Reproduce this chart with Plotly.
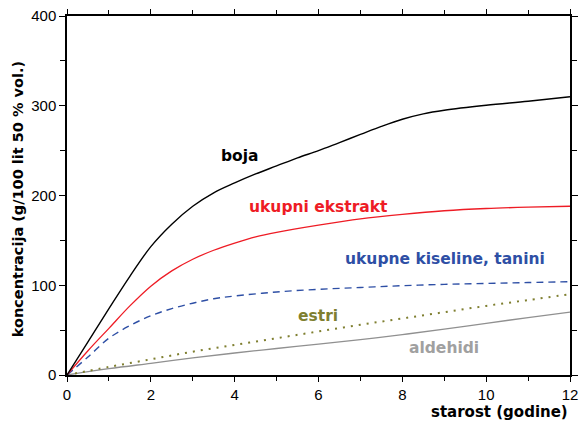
import plotly.graph_objects as go

years = [0, 0.5, 1, 1.5, 2, 2.5, 3, 3.5, 4, 4.5, 5, 5.5, 6, 6.5, 7, 7.5, 8, 8.5, 9, 10, 11, 12]
boja = [0, 37, 74, 110, 143, 168, 188, 203, 214, 224, 233, 242, 250, 259, 268, 277, 285, 291, 295, 300.5, 305, 310]

years_r = [0, 0.5, 1, 1.5, 2, 2.5, 3, 3.5, 4, 4.5, 5, 6, 7, 8, 9, 10, 11, 12]
ekstrakt = [0, 27, 52, 77, 99, 116, 129, 139, 147, 154, 159, 167, 174, 179, 183, 185.5, 187, 188]

years_b = [0, 0.5, 1, 1.5, 2, 2.5, 3, 3.5, 4, 5, 6, 7, 8, 9, 10, 11, 12]
kiseline = [0, 20, 41, 55, 66, 74, 80, 85, 88, 92.5, 95.5, 97.5, 99.5, 101, 102, 103, 104]

years_e = [0, 1, 2, 3, 4, 5, 6, 7, 8, 9, 10, 11, 12]
estri = [0, 9, 17.5, 26, 33.5, 41, 48.5, 56, 63, 70, 77, 83.5, 90]
aldehidi = [0, 7, 13, 19, 24.5, 29.5, 34.5, 39.5, 45, 51, 57.5, 64, 70]

labels = ["boja", "ukupni ekstrakt", "ukupne kiseline, tanini", "estri", "aldehidi"]
label_x = [4.13, 5.99, 9.02, 5.99, 9.0]
label_y = [244, 187, 129, 66, 30]
label_colors = ["#000000", "#ee1c25", "#2e4fa5", "#7f7f30", "#a0a0a0"]

fig = go.Figure()
fig.add_trace(go.Scatter(x=years_e, y=aldehidi, mode="lines",
                         line=dict(color="#909090", width=1.3, shape="spline", smoothing=1.0)))
fig.add_trace(go.Scatter(x=years_e, y=estri, mode="lines",
                         line=dict(color="#7f7f30", width=2, dash="2px,6px", shape="spline", smoothing=1.0)))
fig.add_trace(go.Scatter(x=years_b, y=kiseline, mode="lines",
                         line=dict(color="#2e4fa5", width=1.4, dash="7px,5px", shape="spline", smoothing=1.0)))
fig.add_trace(go.Scatter(x=years_r, y=ekstrakt, mode="lines",
                         line=dict(color="#ee1c25", width=1.3, shape="spline", smoothing=1.0)))
fig.add_trace(go.Scatter(x=years, y=boja, mode="lines",
                         line=dict(color="#000000", width=1.4, shape="spline", smoothing=1.0)))

lab_font = "DejaVu Sans"
for t, x, y, c in zip(labels, label_x, label_y, label_colors):
    fig.add_annotation(x=x, y=y, text="<b>%s</b>" % t, showarrow=False,
                       font=dict(family=lab_font, size=15.5, color=c))

fig.add_annotation(xref="paper", yref="paper", x=1.0, y=-0.103, xanchor="right", yanchor="middle",
                   text="<b>starost (godine)</b>", showarrow=False,
                   font=dict(family=lab_font, size=15, color="#000000"))
fig.add_annotation(xref="paper", yref="paper", x=-0.097, y=0.49, xanchor="center", yanchor="middle",
                   textangle=-90, text="<b>koncentracija (g/100 lit 50 % vol.)</b>", showarrow=False,
                   font=dict(family=lab_font, size=14.5, color="#000000"))

fig.update_layout(
    width=579, height=425,
    margin=dict(l=67, r=9, t=16, b=50, autoexpand=False),
    paper_bgcolor="white", plot_bgcolor="white",
    showlegend=False,
    font=dict(family="Liberation Sans, Arial", size=15, color="#000000"),
)
fig.update_xaxes(range=[0, 12], tickvals=[0, 2, 4, 6, 8, 10, 12], showgrid=False, zeroline=False,
                 showline=True, linecolor="black", linewidth=1.5, mirror="ticks", automargin=False,
                 ticks="outside", ticklen=5, tickcolor="black",
                 minor=dict(dtick=1, ticks="outside", ticklen=4, tickcolor="black"))
fig.update_yaxes(range=[0, 400], tickvals=[0, 100, 200, 300, 400], showgrid=False, zeroline=False,
                 showline=True, linecolor="black", linewidth=1.5, mirror="ticks", automargin=False,
                 ticks="outside", ticklen=6, tickcolor="black",
                 minor=dict(dtick=50, ticks="outside", ticklen=5, tickcolor="black"))

fig.write_html("out.html", config={"displayModeBar": False},
               post_script="document.body.style.margin='0';document.body.style.overflow='hidden';")
